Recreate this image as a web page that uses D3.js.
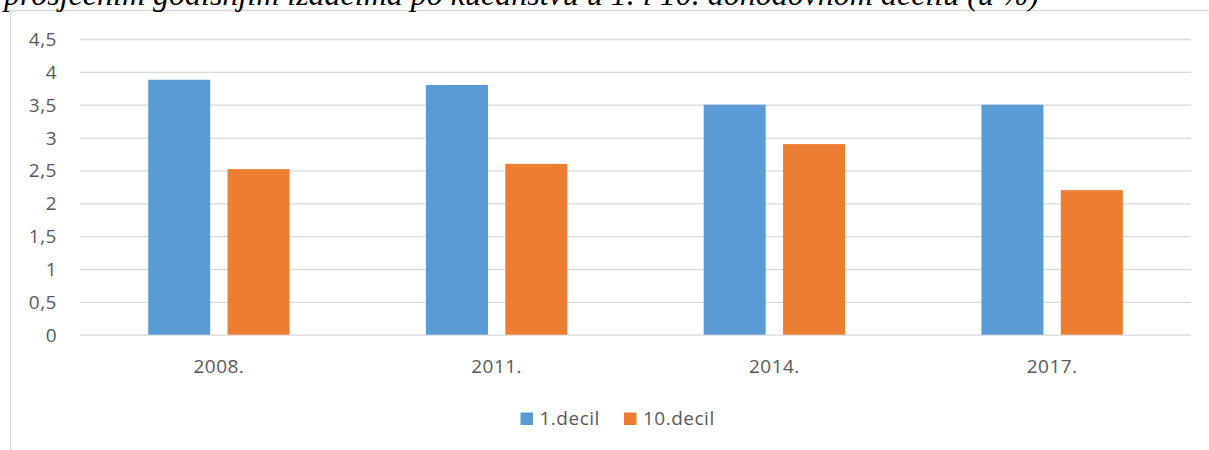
<!DOCTYPE html>
<html>
<head>
<meta charset="utf-8">
<script src="https://cdn.jsdelivr.net/npm/d3@7"></script>
<style>
  html, body { margin: 0; padding: 0; background: #fff; }
  svg { display: block; }
</style>
</head>
<body>
<svg id="chart" width="1209" height="450"></svg>
<script>
const titleText = "prosječnim godišnjim izdacima po kućanstvu u 1. i 10. dohodovnom decilu (u %)";
const categories = ["2008.", "2011.", "2014.", "2017."];
const seriesNames = ["1.decil", "10.decil"];
const decil1 = [3.88, 3.80, 3.50, 3.50];
const decil10 = [2.52, 2.60, 2.90, 2.20];
const yTicks = [0, 0.5, 1, 1.5, 2, 2.5, 3, 3.5, 4, 4.5];
const colors = ["#5B9BD5", "#ED7D31"];

const seriesValues = [decil1, decil10];
const data = categories.map((c, i) => ({cat: c, values: seriesValues.map((s, j) => ({name: seriesNames[j], value: s[i], idx: j}))}));

const svg = d3.select("#chart");
const W = 1209, H = 450;
const plot = {left: 80, right: 1191, top: 39, bottom: 334.7};
const labelFont = "'Open Sans', 'Noto Sans', sans-serif";
const labelSize = 19;
const labelSpacing = "0.5px";

// outer chart-area border
svg.append("path")
  .attr("d", `M10.5,${H} L10.5,10.5 L${W},10.5`)
  .attr("fill", "none").attr("stroke", "#D9D9D9").attr("stroke-width", 1.3);

// title (cut off at top, as in the reference)
svg.append("text")
  .attr("x", 4).attr("y", 5)
  .attr("font-family", "'Liberation Serif', 'Times New Roman', serif")
  .attr("font-style", "italic")
  .attr("font-size", 32)
  .attr("fill", "#000")
  .text(titleText);

const y = d3.scaleLinear().domain([0, 4.5]).range([plot.bottom, plot.top]);
const x0 = d3.scaleBand().domain(categories).range([plot.left, plot.right]).paddingInner(0).paddingOuter(0);
// Excel-like: gap width 220%, overlap -28%
const C = x0.bandwidth();
const bw = C / (2 + 0.28 + 2.2);
const groupOffset = 1.1 * bw;
const x1 = d3.scaleBand().domain(seriesNames)
  .range([groupOffset, C - groupOffset])
  .paddingInner(0.28 / 1.28).paddingOuter(0);

const fmt = v => String(v).replace(".", ",");

// gridlines
const yAxisGrid = d3.axisLeft(y).tickValues(yTicks).tickSize(-(plot.right - plot.left)).tickFormat("");
const grid = svg.append("g").attr("transform", `translate(${plot.left},0)`).call(yAxisGrid);
grid.select(".domain").remove();
grid.selectAll("line").attr("stroke", "#D9D9D9").attr("stroke-width", 1.3);

// y labels
const yAxis = d3.axisLeft(y).tickValues(yTicks).tickSize(0).tickPadding(0).tickFormat(fmt);
const ya = svg.append("g").attr("transform", `translate(57,0)`).call(yAxis);
ya.select(".domain").remove();
ya.selectAll("text")
  .attr("font-family", labelFont).attr("font-size", labelSize).attr("fill", "#595959")
  .attr("letter-spacing", labelSpacing).attr("dy", "0.34em");

// bars
const groups = svg.append("g").selectAll("g").data(data).join("g")
  .attr("transform", d => `translate(${x0(d.cat)},0)`);
groups.selectAll("rect").data(d => d.values).join("rect")
  .attr("x", d => x1(d.name))
  .attr("width", x1.bandwidth())
  .attr("y", d => y(d.value))
  .attr("height", d => y(0) - y(d.value))
  .attr("fill", d => colors[d.idx]);

// x labels
const xAxis = d3.axisBottom(x0).tickSize(0).tickPadding(0);
const xa = svg.append("g").attr("transform", `translate(0,${plot.bottom})`).call(xAxis);
xa.select(".domain").remove();
xa.selectAll("text")
  .attr("font-family", labelFont).attr("font-size", labelSize).attr("fill", "#595959")
  .attr("letter-spacing", labelSpacing).attr("dy", "0").attr("y", 38.5);

// legend
const legendItems = [
  {name: seriesNames[0], color: colors[0], x: 520.5},
  {name: seriesNames[1], color: colors[1], x: 624}
];
const lg = svg.append("g").selectAll("g").data(legendItems).join("g")
  .attr("transform", d => `translate(${d.x},412.5)`);
lg.append("rect").attr("width", 12.5).attr("height", 12.5).attr("fill", d => d.color);
lg.append("text").attr("x", 19).attr("y", 12.5)
  .attr("font-family", labelFont).attr("font-size", labelSize).attr("fill", "#595959")
  .attr("letter-spacing", labelSpacing)
  .text(d => d.name);
</script>
</body>
</html>
